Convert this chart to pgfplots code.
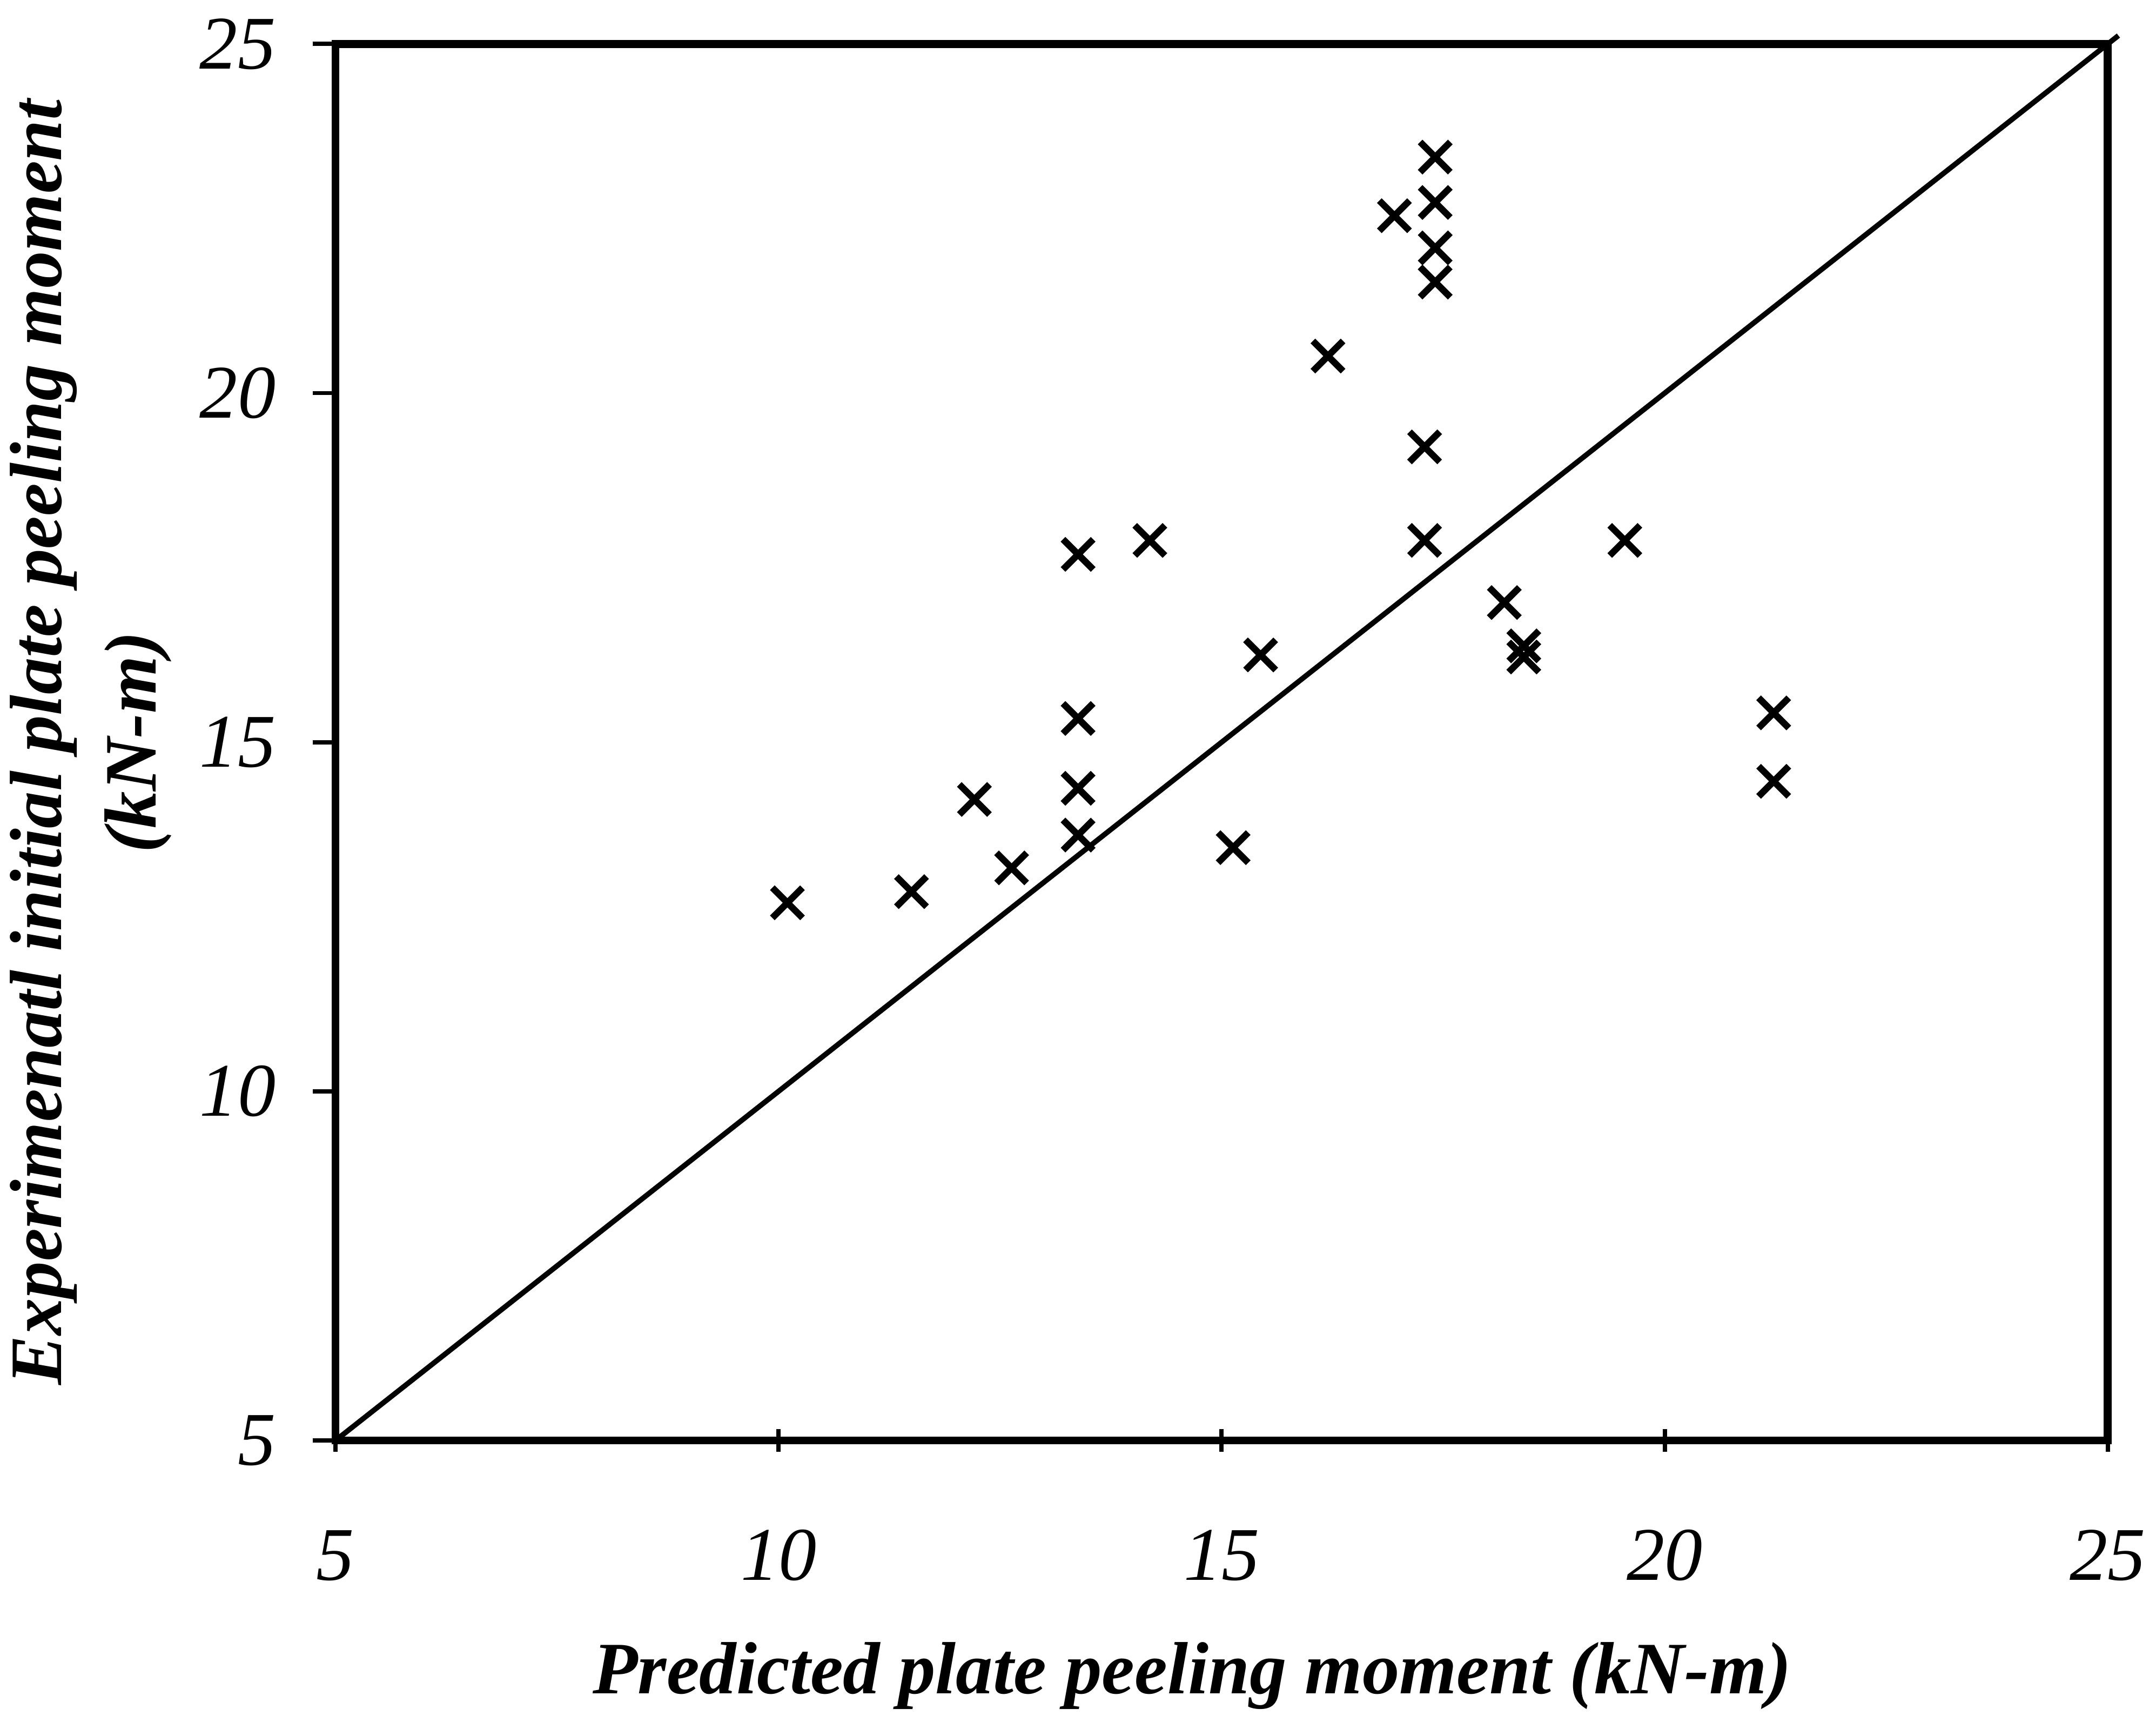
\documentclass[border=0pt]{standalone}
\usepackage{fontspec}
\setmainfont{Liberation Serif}
\usepackage{pgfplots}
\pgfplotsset{compat=1.18}

\begin{document}
\begin{tikzpicture}
\begin{axis}[
    scale only axis,
    width=13.15cm,
    height=10.36cm,
    xmin=5, xmax=25,
    ymin=5, ymax=25,
    clip=false,
    xtick={5,10,15,20,25},
    ytick={5,10,15,20,25},
    xtick pos=bottom,
    ytick pos=left,
    xtick align=center,
    ytick align=outside,
    major tick length=0.17cm,
    tick style={black, line width=0.9pt},
    axis line style={line width=1.7pt},
    ticklabel style={font=\fontsize{16}{19}\selectfont\itshape},
    /pgf/number format/assume math mode=true,
    xticklabel style={anchor=base, yshift=-0.95cm},
    yticklabel style={xshift=-0.15cm},
    xlabel={Predicted plate peeling moment (kN-m)},
    ylabel={Experimenatl initial plate peeling moment\\(kN-m)},
    label style={font=\fontsize{15.6}{20}\selectfont\bfseries\itshape},
    xlabel style={at={(axis description cs:0.4833,-0.1813)}, anchor=base},
    ylabel style={at={(axis description cs:-0.138,0.5)}, anchor=center, align=center},
]

% 1:1 line
\addplot[black, line width=1.1pt] coordinates {(5,5) (25.12,25.12)};

% measured vs predicted
\addplot[only marks, mark=x, mark size=4.5pt, mark options={line width=1.4pt, black}] coordinates {
    (10.10,12.70)
    (11.50,12.86)
    (12.21,14.18)
    (12.63,13.20)
    (13.38,17.69)
    (13.38,15.34)
    (13.38,14.34)
    (13.38,13.67)
    (14.19,17.89)
    (15.13,13.49)
    (15.44,16.25)
    (16.20,20.53)
    (16.95,22.54)
    (17.41,23.38)
    (17.41,22.73)
    (17.41,22.08)
    (17.41,21.59)
    (17.29,19.23)
    (17.29,17.89)
    (18.19,17.00)
    (18.41,16.38)
    (18.41,16.22)
    (19.55,17.89)
    (21.23,15.42)
    (21.23,14.44)
};

\coordinate (bl) at (rel axis cs:-0.1893,-0.197);
\coordinate (tr) at (rel axis cs:1.0272,1.0315);
\end{axis}
\pgfresetboundingbox
\path (bl) rectangle (tr);
\end{tikzpicture}
\end{document}
